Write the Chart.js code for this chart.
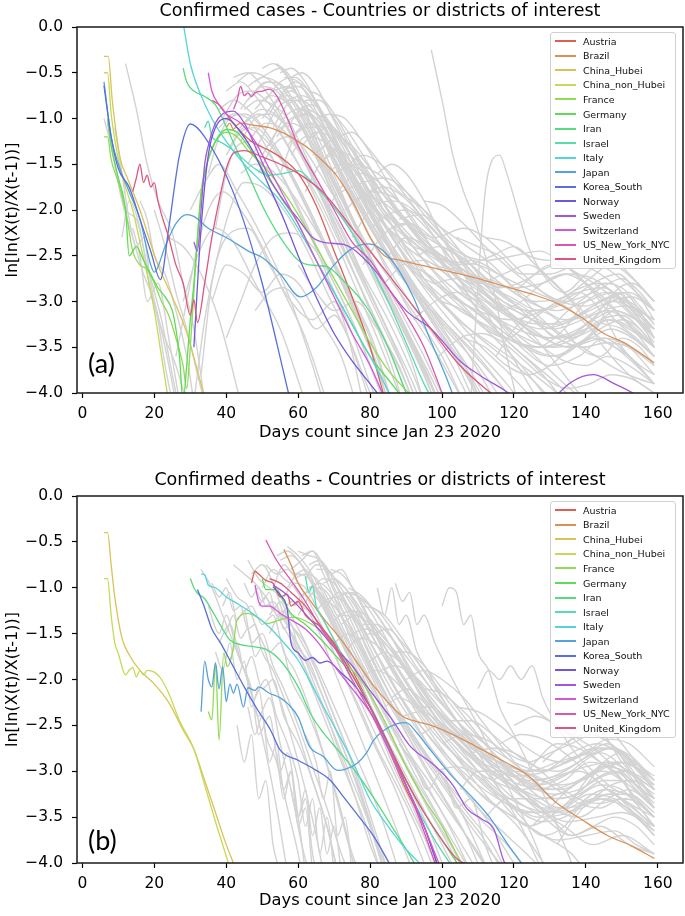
<!DOCTYPE html>
<html>
<head>
<meta charset="utf-8">
<script src="https://cdn.jsdelivr.net/npm/chart.js@4.4.1/dist/chart.umd.min.js"></script>
<style>
  body { margin: 0; background: #fff; }
  .panel { position: absolute; left: 0; width: 685px; height: 458px; }
  .legend { position: absolute; left: 550px; width: 126px; box-sizing: border-box; padding: 1px 0;
            border: 1px solid #d0d0d0; border-radius: 3px; background: rgba(255,255,255,0.85);
            font: 9.5px "DejaVu Sans"; color: #111; z-index: 2; }
  .row { height: 14.55px; display: flex; align-items: center; white-space: nowrap; }
  .swatch { flex: none; display: inline-block; width: 21px; height: 0; border-top: 2px solid; margin: 0 7px 0 4px; }
  .tag { position: absolute; left: 88px; font: 27px Lato, "Open Sans", sans-serif; line-height: 30px; color: #000; z-index: 2; }
</style>
</head>
<body>
<div class="panel" style="top:0"><canvas id="casesChart"></canvas></div>
<div class="panel" style="top:458px"><canvas id="deathsChart"></canvas></div>
<div class="legend" id="casesLegend" style="top:32px"></div>
<div class="legend" id="deathsLegend" style="top:501px"></div>
<div class="tag" style="top:348px">(a)</div>
<div class="tag" style="top:825px">(b)</div>
<script>
const countries = ['Austria', 'Brazil', 'China_Hubei', 'China_non_Hubei', 'France', 'Germany', 'Iran', 'Israel',
                   'Italy', 'Japan', 'Korea_South', 'Norway', 'Sweden', 'Switzerland', 'US_New_York_NYC', 'United_Kingdom'];
const colors = ['#db5f57', '#db9057', '#dbc257', '#c3db57', '#91db57', '#60db57', '#57db80', '#57dbb1',
                '#57d3db', '#57a2db', '#5770db', '#6f57db', '#a157db', '#d257db', '#db57b2', '#db5781'];
const xTicks = [0, 20, 40, 60, 80, 100, 120, 140, 160];
const yTicks = [0, -0.5, -1, -1.5, -2, -2.5, -3, -3.5, -4];

// (a) confirmed cases, pairs of day, value
const casesAustria = [36,-0.8, 38,-0.85, 40,-0.95, 43,-1.1, 47,-1.25, 52,-1.35, 56,-1.45, 60,-1.6, 65,-1.95, 70,-2.45, 75,-2.95, 80,-3.5, 84,-4.05];
const casesBrazil = [40,-1.1, 41,-1.05, 42,-1.12, 43,-1.07, 44,-1.05, 47,-1.07, 52,-1.1, 56,-1.16, 60,-1.25, 63,-1.33, 67,-1.47, 71,-1.64, 76,-1.97, 80,-2.3, 84,-2.5, 88.5,-2.55, 96,-2.62, 104,-2.69, 110,-2.75, 118,-2.84, 125,-2.92, 132,-3.02, 138.6,-3.17, 145,-3.35, 150.6,-3.45, 159,-3.67];
const casesChinaHubei = [6,-0.32, 7.2,-0.32, 8.3,-0.8, 10.6,-1.45, 12.4,-1.64, 16,-2.0, 20.8,-2.58, 25,-2.95, 29,-3.34, 34,-4.05];
const casesChinaNonHubei = [6,-0.5, 7,-0.5, 8,-0.95, 10,-1.45, 12,-1.75, 14,-2.0, 16,-2.35, 18,-2.7, 20,-3.1, 22,-3.6, 24,-4.1];
const casesFrance = [6,-1.2, 7,-1.2, 8,-1.45, 10,-1.7, 12,-2.0, 14,-2.45, 16,-2.6, 18,-2.65, 20,-2.8, 22,-3.0, 24,-3.15, 26,-3.4, 28,-3.7, 29,-3.95, 30,-3.5, 31,-2.9, 32,-2.3, 33,-1.8, 35,-1.45, 37,-1.25, 40,-1.15, 43,-1.2, 46,-1.35, 50,-1.5, 55,-1.75, 60,-2.05, 65,-2.4, 70,-2.75, 75,-3.1, 80,-3.45, 85,-3.75, 92,-4.05];
const casesGermany = [7,-1.0, 8,-1.3, 10,-1.65, 12,-2.0, 13,-2.5, 15,-2.4, 17,-2.55, 19,-2.7, 21,-2.85, 23,-2.95, 25,-3.1, 26,-3.3, 27,-3.6, 28,-4.1, 29,-3.7, 30,-3.2, 31,-2.8, 32,-2.3, 33,-1.85, 35,-1.45, 37,-1.25, 40,-1.12, 43,-1.15, 46,-1.3, 50,-1.55, 55,-1.85, 60,-2.15, 65,-2.55, 70,-2.9, 75,-3.25, 80,-3.6, 85,-3.85, 89,-4.05];
const casesIran = [28,-0.45, 29,-0.6, 31,-0.7, 34,-0.76, 37,-0.85, 40,-1.09, 43,-1.35, 46,-1.6, 50,-1.95, 55,-2.3, 60,-2.55, 63,-2.6, 68,-2.62, 72,-2.75, 79,-3.06, 85,-3.5, 90.5,-4.05];
const casesIsrael = [34,-1.1, 35,-1.03, 36,-1.2, 38,-1.25, 42,-1.35, 48,-1.55, 52,-1.62, 56,-1.6, 60,-1.57, 65,-1.75, 70,-1.97, 75,-2.25, 80,-2.6, 85,-3.0, 90,-3.45, 95,-3.9, 97,-4.05];
const casesItaly = [28,0.05, 30,-0.4, 33,-0.75, 36,-1.0, 40,-1.25, 45,-1.5, 50,-1.7, 55,-1.9, 60,-2.2, 65,-2.55, 70,-2.9, 75,-3.25, 80,-3.6, 86,-4.05];
const casesJapan = [6,-0.6, 8,-1.2, 10,-1.5, 13,-1.8, 16,-2.1, 19,-2.6, 20,-2.68, 23,-2.4, 26,-2.15, 29,-2.05, 31,-2.07, 35,-2.2, 40,-2.3, 46.7,-2.46, 50,-2.52, 55,-2.7, 60.6,-2.95, 65,-2.85, 70,-2.6, 75,-2.42, 79.6,-2.37, 85,-2.5, 92,-2.95, 96,-3.35, 101.5,-3.86, 103.3,-4.05];
const casesKorea = [6,-0.64, 8,-1.2, 10,-1.55, 13,-1.75, 16,-2.1, 19,-2.45, 21.7,-2.76, 24,-2.2, 27,-1.4, 30,-1.06, 34,-1.2, 42,-1.81, 49.5,-2.73, 57.3,-4.0];
const casesNorway = [31,-3.5, 33,-2.2, 35,-1.4, 37,-1.1, 40,-1.0, 44,-1.15, 48,-1.4, 52,-1.75, 56,-2.1, 60,-2.5, 65,-2.95, 70,-3.35, 75,-3.65, 80,-3.9, 83,-4.05];
const casesSweden = [31,-2.35, 32,-2.45, 33,-2.0, 34,-1.5, 35,-1.3, 37,-1.05, 39,-0.95, 42,-0.92, 45,-1.05, 48,-1.3, 52,-1.65, 56,-1.9, 60,-2.1, 64,-2.3, 68,-2.36, 73,-2.38, 80,-2.6, 90,-3.1, 97,-3.3, 105,-3.65, 111,-3.82, 120,-4.05, 125,-4.3, 130,-4.1, 136,-3.88, 142,-3.8, 148,-3.9, 155,-4.05, 159,-4.2];
const casesSwitzerland = [35,-0.5, 36,-0.7, 38,-0.85, 40,-0.95, 44,-1.05, 48,-1.25, 52,-1.55, 56,-1.85, 60,-2.15, 65,-2.55, 70,-2.95, 75,-3.35, 80,-3.7, 84,-4.05];
const casesNYC = [42,-0.9, 43,-0.8, 44,-0.65, 45,-0.75, 46,-0.72, 47,-0.76, 48,-0.72, 50,-0.7, 52,-0.68, 54,-0.75, 57,-1.0, 60,-1.3, 65,-1.65, 70,-2.0, 75,-2.35, 80,-2.55, 85,-2.85, 90,-3.15, 95,-3.5, 100.5,-4.05];
const casesUK = [14,-1.8, 15,-1.65, 16,-1.5, 17,-1.7, 18,-1.62, 19,-1.75, 20,-1.7, 21,-1.9, 22,-2.05, 24,-2.3, 26,-2.6, 28,-2.8, 30,-3.15, 31,-2.98, 32,-3.23, 34,-2.8, 36,-2.3, 38,-1.9, 40,-1.55, 42,-1.38, 45,-1.35, 50,-1.42, 55,-1.5, 60,-1.6, 67,-1.81, 75,-2.2, 85,-2.7, 95,-3.2, 105,-3.7, 115,-4.05];

const casesGray = [
  [12,-0.4, 15,-0.9, 18,-1.5, 21,-1.9, 25,-2.25, 28,-2.8, 31,-3.3, 34,-4.1],
  [6,-1.0, 8,-1.3, 11,-1.9, 14,-2.3, 17,-2.7, 20,-3.0, 23,-3.5, 26,-4.1],
  [7,-1.05, 9,-1.5, 12,-2.0, 15,-2.1, 18,-2.6, 22,-3.2, 25,-3.8, 27,-4.2],
  [11,-2.3, 13,-1.9, 16,-2.2, 19,-2.9, 22,-3.3, 26,-3.7, 29,-4.1],
  [14,-2.2, 16,-2.5, 18,-3.0, 21,-2.8, 24,-3.4, 27,-4.1],
  [24,-2.3, 28,-2.4, 33,-2.7, 38,-3.2, 44,-4.1],
  [28,-3.0, 32,-2.5, 37,-2.2, 42,-2.35, 48,-2.8, 55,-3.3, 62,-4.1],
  [30,-2.0, 34,-1.7, 38,-1.5, 43,-1.8, 50,-2.3, 58,-3.0, 64,-3.7, 67,-4.1],
  [33,-3.8, 36,-2.8, 40,-2.3, 46,-2.2, 52,-2.6, 58,-3.0, 64,-3.2, 70,-3.0, 74,-3.4, 78,-4.1],
  [36,-3.0, 40,-2.6, 45,-2.7, 50,-2.9, 55,-2.7, 60,-2.8, 66,-3.2, 72,-3.6, 76,-4.1],
  [38,-0.9, 42,-0.8, 46,-0.9, 52,-1.2, 58,-1.6, 64,-2.1, 70,-2.6, 76,-3.1, 82,-3.7, 85,-4.1],
  [40,-0.7, 44,-0.6, 48,-0.75, 54,-1.1, 60,-1.5, 66,-1.9, 72,-2.4, 78,-2.9, 84,-3.4, 90,-3.9, 92,-4.1],
  [42,-1.2, 46,-1.0, 50,-0.9, 55,-1.0, 60,-1.3, 66,-1.8, 72,-2.2, 78,-2.7, 85,-3.2, 92,-3.8, 95,-4.1],
  [44,-0.9, 48,-0.7, 52,-0.6, 56,-0.75, 61,-1.1, 67,-1.6, 73,-2.1, 80,-2.6, 88,-3.2, 96,-3.8, 99,-4.1],
  [46,-1.5, 50,-1.2, 54,-0.9, 58,-0.8, 62,-1.0, 68,-1.5, 74,-2.0, 81,-2.5, 90,-3.0, 100,-3.6, 106,-4.1],
  [48,-0.6, 52,-0.5, 55,-0.45, 58,-0.6, 62,-0.95, 68,-1.5, 74,-2.0, 80,-2.5, 87,-3.0, 95,-3.6, 101,-4.1],
  [50,-1.0, 54,-0.8, 58,-0.7, 62,-0.85, 67,-1.2, 73,-1.7, 80,-2.2, 88,-2.7, 97,-3.1, 106,-3.5, 115,-4.1],
  [52,-1.3, 56,-1.0, 60,-0.9, 64,-1.0, 69,-1.35, 75,-1.8, 82,-2.3, 90,-2.8, 100,-3.2, 110,-3.6, 120,-4.1],
  [54,-0.4, 57,-0.5, 60,-0.7, 64,-1.0, 70,-1.5, 76,-2.0, 83,-2.5, 91,-3.0, 100,-3.5, 108,-4.1],
  [55,-1.6, 59,-1.2, 63,-1.05, 67,-1.2, 72,-1.6, 78,-2.0, 85,-2.4, 93,-2.7, 102,-2.9, 112,-3.3, 122,-3.7, 130,-4.1],
  [57,-1.1, 61,-0.9, 65,-1.0, 70,-1.3, 76,-1.7, 83,-2.1, 90,-2.4, 98,-2.6, 106,-2.7, 115,-3.0, 125,-3.3, 135,-3.5, 145,-3.4, 152,-3.6, 159,-3.9],
  [58,-1.4, 62,-1.2, 67,-1.25, 72,-1.5, 78,-1.9, 85,-2.2, 92,-2.4, 100,-2.5, 108,-2.7, 116,-2.8, 124,-3.0, 132,-3.1, 140,-3.0, 148,-2.9, 154,-3.1, 159,-3.4],
  [60,-0.9, 64,-0.85, 68,-1.0, 73,-1.3, 80,-1.8, 88,-2.2, 96,-2.5, 104,-2.8, 112,-3.0, 120,-3.2, 128,-3.3, 136,-3.2, 144,-3.0, 150,-2.9, 155,-3.1, 159,-3.4],
  [62,-1.8, 66,-1.5, 70,-1.4, 75,-1.6, 82,-2.0, 90,-2.3, 98,-2.5, 106,-2.6, 114,-2.5, 120,-2.4, 126,-2.6, 134,-2.9, 142,-3.2, 150,-3.3, 159,-3.6],
  [64,-1.2, 68,-1.1, 72,-1.2, 78,-1.5, 85,-1.9, 92,-2.2, 100,-2.4, 108,-2.6, 116,-2.9, 124,-3.1, 132,-3.4, 140,-3.3, 146,-3.0, 152,-2.9, 159,-3.1],
  [66,-1.5, 70,-1.35, 76,-1.45, 83,-1.8, 90,-2.1, 98,-2.3, 106,-2.2, 112,-2.3, 120,-2.6, 128,-2.9, 136,-3.1, 144,-3.4, 152,-3.6, 159,-3.9],
  [68,-2.0, 73,-1.7, 78,-1.6, 84,-1.75, 92,-2.1, 100,-2.6, 108,-3.0, 116,-3.3, 124,-3.5, 132,-3.6, 140,-3.4, 146,-3.2, 152,-3.3, 159,-3.5],
  [70,-1.6, 76,-1.5, 82,-1.6, 88,-1.8, 95,-2.0, 102,-2.3, 110,-2.7, 118,-3.1, 126,-3.4, 134,-3.8, 140,-4.1],
  [72,-1.8, 78,-1.7, 84,-1.65, 90,-1.8, 97,-2.1, 104,-2.5, 112,-2.9, 120,-3.2, 128,-3.4, 136,-3.5, 143,-3.3, 148,-2.9, 153,-2.8, 159,-3.0],
  [75,-2.3, 80,-2.0, 86,-1.9, 92,-2.0, 98,-2.3, 104,-2.7, 110,-3.1, 118,-3.4, 126,-3.5, 134,-3.3, 140,-3.0, 146,-2.9, 152,-3.1, 159,-3.4],
  [78,-2.6, 83,-2.3, 89,-2.15, 95,-2.3, 101,-2.6, 108,-2.9, 115,-3.2, 122,-3.5, 130,-3.7, 138,-3.6, 145,-3.4, 152,-3.5, 159,-3.8],
  [82,-1.6, 86,-1.5, 90,-1.6, 95,-1.9, 100,-2.3, 106,-2.7, 112,-3.1, 118,-3.5, 124,-3.9, 127,-4.1],
  [97,-0.25, 100,-0.8, 103,-1.4, 106,-1.8, 109,-2.1, 112,-2.5, 115,-3.0, 118,-3.6, 121,-4.1],
  [108,-4.1, 110,-2.8, 112,-1.8, 114,-1.45, 116,-1.4, 118,-1.6, 121,-2.0, 124,-2.4, 128,-2.7, 134,-2.9, 140,-2.7, 146,-2.5, 152,-2.7, 159,-3.0],
  [85,-2.5, 90,-2.3, 96,-2.4, 103,-2.6, 110,-2.8, 117,-2.7, 124,-2.6, 131,-2.8, 138,-3.1, 145,-3.5, 152,-3.8, 159,-4.0],
  [88,-2.1, 94,-2.05, 100,-2.2, 107,-2.4, 114,-2.6, 121,-2.9, 128,-3.2, 135,-3.4, 142,-3.3, 148,-3.1, 154,-3.2, 159,-3.3],
  [100,-3.0, 106,-3.1, 112,-3.3, 118,-3.4, 125,-3.2, 132,-3.0, 138,-2.9, 144,-3.1, 150,-3.5, 155,-3.7, 159,-3.8],
  [92,-3.2, 98,-3.0, 104,-2.9, 110,-3.0, 118,-3.3, 126,-3.6, 134,-3.9, 140,-4.1],
  [104,-2.3, 110,-2.4, 116,-2.5, 122,-2.7, 130,-2.7, 138,-2.6, 144,-2.7, 150,-2.9, 155,-3.2, 159,-3.5],
  [115,-3.6, 120,-3.3, 126,-3.1, 132,-3.2, 138,-3.5, 144,-3.6, 150,-3.4, 155,-3.5, 159,-3.7],
  [45,-0.9, 49,-0.8, 53,-0.85, 57,-1.0, 62,-1.4, 68,-1.9, 74,-2.4, 80,-2.9, 86,-3.4, 92,-3.9, 94,-4.1],
  [47,-1.2, 51,-1.05, 55,-1.1, 60,-1.35, 66,-1.8, 72,-2.3, 78,-2.8, 84,-3.3, 90,-3.8, 93,-4.1],
  [41,-1.3, 45,-1.1, 50,-1.2, 56,-1.5, 62,-1.95, 68,-2.45, 74,-2.95, 80,-3.5, 85,-4.1],
  [53,-0.7, 57,-0.65, 61,-0.8, 66,-1.15, 72,-1.6, 78,-2.05, 85,-2.5, 93,-2.9, 101,-3.3, 110,-3.7, 117,-4.1],
  [60,-2.6, 65,-2.9, 70,-3.1, 76,-3.0, 82,-3.3, 88,-3.7, 92,-4.1],
  [56,-0.55, 60,-0.6, 64,-0.85, 69,-1.2, 75,-1.7, 82,-2.2, 90,-2.7, 98,-3.2, 107,-3.7, 113,-4.1],
  [63,-0.9, 67,-1.0, 72,-1.25, 78,-1.6, 85,-2.0, 93,-2.35, 101,-2.55, 110,-2.6, 118,-2.75, 126,-2.9, 134,-3.0, 142,-2.9, 150,-2.75, 155,-2.9, 159,-3.1],
  [35,-1.6, 38,-1.2, 41,-1.0, 45,-0.95, 50,-1.1, 56,-1.45, 62,-1.9, 68,-2.4, 74,-2.9, 80,-3.4, 86,-4.1],
  [37,-2.2, 40,-1.6, 43,-1.3, 47,-1.25, 52,-1.4, 58,-1.8, 64,-2.3, 70,-2.8, 76,-3.3, 82,-3.9, 84,-4.1],
  [39,-1.0, 43,-0.75, 47,-0.7, 51,-0.8, 56,-1.05, 62,-1.5, 68,-2.0, 74,-2.55, 80,-3.1, 86,-3.7, 89,-4.1],
  [43,-0.6, 47,-0.5, 51,-0.55, 55,-0.7, 60,-1.0, 66,-1.5, 72,-2.0, 78,-2.5, 84,-3.0, 91,-3.6, 95,-4.1],
  [46,-0.8, 50,-0.65, 54,-0.7, 58,-0.9, 63,-1.25, 69,-1.7, 75,-2.2, 82,-2.75, 89,-3.3, 96,-3.9, 98,-4.1],
  [49,-1.6, 53,-1.3, 57,-1.2, 61,-1.3, 66,-1.6, 72,-2.0, 78,-2.5, 85,-3.0, 92,-3.5, 98,-4.1],
  [51,-0.8, 55,-0.6, 59,-0.55, 63,-0.7, 68,-1.05, 74,-1.5, 80,-2.0, 87,-2.5, 94,-3.0, 102,-3.5, 109,-4.1],
  [53,-1.1, 57,-0.85, 61,-0.8, 65,-0.95, 70,-1.3, 76,-1.75, 83,-2.25, 90,-2.7, 98,-3.1, 107,-3.5, 116,-3.9, 120,-4.1],
  [55,-0.5, 58,-0.45, 62,-0.6, 66,-0.9, 71,-1.3, 77,-1.8, 84,-2.3, 91,-2.8, 99,-3.3, 107,-3.8, 111,-4.1],
  [57,-0.8, 61,-0.75, 65,-0.85, 70,-1.15, 75,-1.5, 81,-1.95, 88,-2.4, 96,-2.8, 105,-3.1, 114,-3.3, 123,-3.6, 132,-3.9, 137,-4.1],
  [59,-1.0, 63,-0.95, 67,-1.1, 72,-1.4, 78,-1.8, 85,-2.2, 93,-2.6, 101,-2.9, 110,-3.1, 119,-3.2, 128,-3.1, 136,-2.9, 143,-2.8, 150,-3.0, 159,-3.3],
  [61,-1.3, 65,-1.15, 69,-1.2, 74,-1.45, 80,-1.8, 87,-2.15, 95,-2.45, 103,-2.65, 111,-2.8, 119,-2.95, 127,-3.1, 135,-3.0, 142,-2.8, 149,-2.7, 154,-2.9, 159,-3.2],
  [63,-0.7, 66,-0.75, 70,-0.95, 75,-1.3, 81,-1.75, 88,-2.2, 96,-2.6, 104,-2.95, 112,-3.2, 120,-3.5, 128,-3.8, 134,-4.1],
  [65,-1.0, 69,-0.95, 73,-1.1, 78,-1.4, 84,-1.8, 91,-2.2, 99,-2.55, 107,-2.8, 115,-3.0, 123,-3.15, 131,-3.3, 139,-3.2, 146,-3.1, 153,-3.3, 159,-3.6],
  [67,-1.3, 71,-1.2, 75,-1.3, 80,-1.55, 86,-1.9, 93,-2.25, 100,-2.5, 108,-2.7, 116,-2.85, 124,-2.75, 130,-2.6, 136,-2.65, 142,-2.9, 148,-3.2, 154,-3.4, 159,-3.6],
  [69,-0.95, 73,-1.0, 77,-1.2, 82,-1.5, 88,-1.9, 95,-2.3, 103,-2.7, 111,-3.0, 119,-3.3, 127,-3.5, 135,-3.4, 142,-3.2, 148,-3.1, 154,-3.2, 159,-3.4],
  [71,-1.2, 75,-1.15, 79,-1.3, 84,-1.55, 90,-1.85, 97,-2.2, 104,-2.45, 112,-2.55, 120,-2.5, 127,-2.45, 134,-2.6, 141,-2.85, 148,-3.1, 154,-3.3, 159,-3.5],
  [74,-1.5, 78,-1.4, 83,-1.5, 89,-1.75, 95,-2.05, 102,-2.35, 110,-2.6, 118,-2.85, 126,-3.0, 134,-2.95, 141,-2.75, 147,-2.6, 153,-2.75, 159,-3.0],
  [76,-1.9, 81,-1.8, 86,-1.85, 92,-2.05, 99,-2.35, 106,-2.7, 114,-3.0, 122,-3.25, 130,-3.4, 138,-3.3, 145,-3.1, 151,-3.05, 159,-3.2],
  [80,-2.2, 85,-2.05, 90,-2.0, 96,-2.15, 103,-2.45, 110,-2.75, 117,-3.0, 125,-3.2, 133,-3.25, 141,-3.1, 148,-3.0, 154,-3.1, 159,-3.3],
  [84,-2.8, 89,-2.6, 95,-2.55, 101,-2.7, 108,-2.95, 115,-3.2, 123,-3.4, 131,-3.5, 139,-3.45, 147,-3.3, 153,-3.4, 159,-3.6],
  [90,-2.6, 96,-2.7, 102,-2.9, 109,-3.1, 116,-3.3, 123,-3.5, 130,-3.6, 137,-3.5, 144,-3.3, 150,-3.2, 155,-3.3, 159,-3.5],
  [95,-1.9, 100,-1.95, 106,-2.15, 112,-2.4, 119,-2.65, 126,-2.85, 133,-3.0, 140,-3.05, 147,-2.95, 153,-3.05, 159,-3.3],
  [98,-2.8, 104,-2.75, 110,-2.85, 116,-3.05, 122,-3.3, 128,-3.5, 134,-3.65, 140,-3.7, 146,-3.6, 152,-3.7, 159,-3.9],
  [106,-3.4, 112,-3.5, 118,-3.7, 124,-3.8, 130,-3.7, 136,-3.5, 142,-3.4, 148,-3.5, 154,-3.7, 159,-3.9],
  [110,-2.9, 116,-3.1, 122,-3.0, 128,-2.8, 134,-2.7, 140,-2.8, 146,-3.0, 152,-3.25, 159,-3.5],
  [20,-2.0, 23,-2.4, 26,-2.9, 29,-3.3, 32,-3.8, 34,-4.1],
  [9,-1.1, 11,-1.6, 13,-2.1, 15,-2.4, 17,-2.3, 19,-2.8, 21,-3.2, 23,-3.7, 25,-4.1],
  [16,-1.9, 18,-2.1, 20,-2.5, 23,-2.7, 26,-3.1, 29,-3.6, 31,-4.1],
  [26,-3.6, 29,-3.0, 32,-2.4, 35,-2.0, 39,-1.8, 44,-2.0, 50,-2.4, 56,-2.9, 62,-3.4, 68,-4.1],
  [31,-4.1, 34,-3.2, 37,-2.6, 41,-2.0, 45,-1.7, 50,-1.75, 56,-2.0, 62,-2.4, 68,-2.9, 74,-3.4, 80,-4.1],
  [40,-3.4, 44,-3.0, 48,-2.6, 53,-2.3, 58,-2.25, 64,-2.4, 70,-2.8, 76,-3.3, 81,-3.8, 84,-4.1],
  [48,-3.1, 52,-2.9, 56,-2.85, 60,-3.0, 65,-3.3, 70,-3.15, 74,-3.4, 78,-3.8, 81,-4.1],
  [44,-1.6, 48,-1.5, 52,-1.55, 57,-1.75, 63,-2.1, 69,-2.5, 75,-2.95, 81,-3.45, 86,-4.1],
  [38,-1.1, 42,-0.95, 46,-1.0, 51,-1.3, 57,-1.75, 63,-2.25, 69,-2.8, 75,-3.35, 80,-3.9, 82,-4.1],
  [40,-1.4, 44,-1.15, 48,-1.1, 53,-1.3, 59,-1.7, 65,-2.2, 71,-2.7, 77,-3.25, 83,-3.8, 86,-4.1],
  [42,-0.55, 46,-0.5, 50,-0.65, 55,-0.95, 61,-1.4, 67,-1.9, 73,-2.45, 79,-3.0, 86,-3.6, 91,-4.1],
  [44,-1.25, 48,-1.0, 52,-0.95, 57,-1.1, 62,-1.45, 68,-1.95, 74,-2.45, 81,-3.0, 88,-3.6, 93,-4.1],
  [46,-0.65, 50,-0.55, 54,-0.6, 58,-0.8, 63,-1.15, 69,-1.65, 76,-2.2, 83,-2.75, 90,-3.3, 97,-3.9, 99,-4.1],
  [48,-0.9, 52,-0.75, 56,-0.8, 61,-1.05, 66,-1.45, 72,-1.95, 79,-2.5, 86,-3.05, 93,-3.6, 99,-4.1],
  [50,-0.45, 53,-0.4, 57,-0.55, 61,-0.85, 66,-1.25, 72,-1.8, 78,-2.35, 85,-2.9, 92,-3.45, 99,-4.0, 100,-4.1],
  [52,-0.95, 56,-0.7, 60,-0.65, 64,-0.8, 69,-1.15, 75,-1.6, 82,-2.1, 89,-2.6, 97,-3.1, 105,-3.6, 111,-4.1],
  [54,-1.2, 58,-1.0, 62,-0.95, 66,-1.1, 71,-1.45, 77,-1.9, 84,-2.4, 91,-2.85, 99,-3.3, 107,-3.75, 112,-4.1],
  [56,-0.7, 59,-0.6, 63,-0.7, 67,-0.95, 72,-1.35, 78,-1.85, 85,-2.4, 92,-2.9, 100,-3.4, 108,-3.9, 110,-4.1],
  [58,-0.55, 61,-0.5, 65,-0.65, 69,-0.95, 74,-1.35, 80,-1.85, 87,-2.35, 94,-2.8, 102,-3.2, 110,-3.55, 118,-3.9, 122,-4.1],
  [60,-1.15, 64,-1.05, 68,-1.15, 73,-1.45, 79,-1.85, 86,-2.3, 93,-2.7, 101,-3.05, 109,-3.35, 117,-3.6, 125,-3.85, 131,-4.1],
  [62,-0.8, 66,-0.8, 70,-1.0, 75,-1.35, 81,-1.8, 88,-2.3, 95,-2.75, 103,-3.15, 111,-3.5, 119,-3.8, 126,-4.1],
  [45,-1.05, 49,-0.95, 53,-1.05, 58,-1.35, 64,-1.8, 70,-2.3, 76,-2.85, 82,-3.4, 88,-4.0, 89,-4.1],
  [47,-0.75, 51,-0.6, 55,-0.62, 59,-0.82, 64,-1.2, 70,-1.7, 77,-2.25, 84,-2.85, 91,-3.4, 98,-4.0, 99,-4.1],
  [50,-1.4, 54,-1.15, 58,-1.05, 62,-1.15, 67,-1.5, 73,-1.95, 79,-2.45, 86,-3.0, 93,-3.55, 99,-4.1],
  [53,-0.85, 57,-0.75, 61,-0.85, 66,-1.15, 71,-1.55, 77,-2.05, 84,-2.6, 91,-3.1, 99,-3.6, 106,-4.1],
  [57,-1.3, 61,-1.1, 65,-1.1, 70,-1.35, 76,-1.75, 83,-2.2, 90,-2.6, 98,-2.95, 106,-3.25, 115,-3.5, 124,-3.75, 132,-4.0, 135,-4.1],
  [64,-1.4, 68,-1.3, 72,-1.4, 77,-1.65, 83,-2.0, 90,-2.4, 97,-2.75, 105,-3.05, 113,-3.3, 121,-3.45, 129,-3.5, 137,-3.4, 144,-3.2, 150,-3.15, 155,-3.3, 159,-3.5],
  [66,-1.0, 70,-1.1, 74,-1.3, 79,-1.6, 85,-2.0, 92,-2.4, 100,-2.75, 108,-3.0, 116,-3.2, 124,-3.35, 132,-3.4, 140,-3.3, 147,-3.2, 153,-3.3, 159,-3.5],
  [68,-1.6, 72,-1.5, 77,-1.55, 83,-1.8, 89,-2.1, 96,-2.4, 104,-2.65, 112,-2.8, 120,-2.85, 128,-2.8, 135,-2.7, 142,-2.75, 149,-2.95, 155,-3.2, 159,-3.4],
  [73,-2.0, 78,-1.85, 83,-1.9, 89,-2.1, 96,-2.4, 103,-2.7, 111,-2.95, 119,-3.15, 127,-3.25, 135,-3.2, 142,-3.05, 148,-2.95, 154,-3.05, 159,-3.25],
  [79,-1.8, 84,-1.75, 89,-1.85, 95,-2.1, 102,-2.4, 109,-2.7, 117,-2.95, 125,-3.15, 133,-3.35, 141,-3.55, 149,-3.75, 155,-3.85, 159,-3.9],
  [86,-2.2, 91,-2.15, 97,-2.3, 103,-2.55, 110,-2.8, 117,-3.0, 124,-3.1, 131,-3.05, 138,-2.9, 145,-2.85, 151,-3.0, 159,-3.2],
  [93,-2.5, 99,-2.4, 105,-2.5, 111,-2.7, 118,-2.95, 125,-3.2, 132,-3.4, 139,-3.5, 146,-3.45, 152,-3.5, 159,-3.7],
  [102,-2.6, 108,-2.55, 114,-2.65, 120,-2.85, 127,-3.05, 134,-3.2, 141,-3.15, 147,-3.0, 153,-2.95, 159,-3.1],
  [112,-2.3, 118,-2.35, 124,-2.5, 130,-2.55, 136,-2.5, 142,-2.55, 148,-2.7, 154,-2.9, 159,-3.1],
  [120,-2.9, 126,-2.7, 132,-2.6, 138,-2.7, 144,-2.85, 150,-3.05, 155,-3.25, 159,-3.45],
  [130,-3.3, 135,-3.1, 140,-2.95, 145,-2.8, 150,-2.85, 155,-3.05, 159,-3.25],
  [99,-3.6, 105,-3.4, 111,-3.35, 117,-3.45, 123,-3.65, 129,-3.85, 135,-3.95, 141,-3.9, 147,-3.8, 153,-3.85, 159,-4.0]
];

// (b) confirmed deaths
const deathsAustria = [47,-0.95, 48,-0.82, 49,-0.85, 51,-0.92, 53,-0.95, 55,-1.1, 57,-1.07, 58,-1.2, 60,-1.15, 62,-1.3, 66,-1.42, 70,-1.6, 75,-1.9, 80,-2.3, 85,-2.75, 90,-3.2, 95,-3.6, 99,-4.05];
const deathsBrazil = [56,-0.58, 58,-0.75, 60,-0.95, 63,-1.12, 67,-1.33, 72.6,-1.6, 77,-1.85, 81,-2.07, 85,-2.25, 89,-2.4, 93,-2.46, 97,-2.5, 103,-2.6, 109,-2.72, 118,-2.91, 124,-3.05, 132,-3.35, 138.6,-3.52, 146,-3.7, 152.5,-3.81, 159,-3.95];
const deathsChinaHubei = [6,-0.4, 7,-0.4, 8,-0.75, 9,-1.1, 11,-1.55, 13,-1.73, 16,-1.9, 20,-2.05, 24,-2.25, 28,-2.55, 31,-2.76, 34,-3.1, 37,-3.45, 40,-3.8, 42.5,-4.05];
const deathsChinaNonHubei = [6,-0.9, 7,-0.9, 8,-1.3, 9,-1.6, 10,-1.72, 12,-1.95, 13,-1.9, 14,-1.87, 15,-1.97, 16,-1.9, 17,-1.95, 18,-1.9, 20,-1.92, 22,-2.0, 24,-2.15, 27,-2.45, 31,-2.76, 34,-3.15, 37,-3.55, 39,-3.8, 41,-4.05];
const deathsFrance = [35,-2.35, 36,-2.44, 37,-1.82, 38,-2.66, 39.3,-1.71, 40.3,-1.86, 41.7,-1.71, 43,-1.35, 46,-1.28, 48.6,-1.32, 51.4,-1.39, 55,-1.35, 58.7,-1.32, 63.4,-1.39, 68,-1.53, 72.6,-1.79, 78,-2.04, 84,-2.45, 90,-2.95, 95,-3.3, 100,-3.6, 106,-4.05];
const deathsGermany = [50,-0.9, 51,-1.02, 54,-1.02, 56,-1.15, 58,-1.28, 62,-1.4, 66,-1.55, 70,-1.72, 75,-1.95, 80,-2.3, 85,-2.7, 90,-3.1, 95,-3.45, 100,-3.75, 105,-4.05];
const deathsIran = [30,-0.9, 31,-1.0, 32,-1.06, 34,-1.12, 36.5,-1.28, 39,-1.45, 41,-1.57, 44,-1.62, 47,-1.64, 51.5,-1.68, 55,-1.79, 60,-2.08, 63.4,-2.37, 67,-2.58, 72.6,-2.84, 77,-3.06, 82,-3.35, 86,-3.6, 90,-3.85, 93,-4.05];
const deathsIsrael = [62,-0.88, 63,-1.05, 64,-0.98, 65,-1.2, 67,-1.35, 71,-1.64, 75,-1.95, 78,-2.15, 83,-2.55, 88,-3.0, 93,-3.4, 98,-3.75, 103,-4.05];
const deathsItaly = [33,-0.85, 34,-0.86, 35,-0.97, 37,-1.0, 40,-1.1, 43,-1.17, 48,-1.3, 52,-1.43, 56,-1.6, 60,-1.79, 65,-2.15, 70,-2.51, 75,-2.88, 80,-3.31, 85,-3.6, 90,-3.85, 95,-4.05];
const deathsJapan = [33,-2.35, 34,-1.8, 35,-2.0, 36,-2.08, 37,-1.82, 38,-2.1, 39,-1.86, 40,-2.24, 41,-2.05, 42,-2.15, 43,-2.05, 44.8,-2.3, 46,-2.09, 48,-2.12, 49,-2.08, 52,-2.15, 55,-2.2, 57,-2.26, 60,-2.41, 63,-2.72, 67,-2.84, 71,-2.99, 73,-2.98, 76.5,-2.91, 79,-2.8, 81,-2.66, 84,-2.55, 87.6,-2.48, 90,-2.47, 93,-2.58, 96,-2.73, 102,-3.02, 109,-3.31, 113,-3.49, 118,-3.78, 123,-4.05];
const deathsKorea = [32,-1.02, 34,-1.22, 36,-1.45, 38.4,-1.6, 41,-1.79, 45,-2.08, 48.7,-2.33, 52.3,-2.55, 55,-2.77, 60,-2.88, 65,-2.99, 69,-3.1, 72.6,-3.28, 77,-3.5, 81,-3.71, 86,-4.05];
const deathsNorway = [53,-0.99, 55,-1.08, 57,-1.24, 58,-1.6, 60,-1.71, 62,-1.79, 64,-1.76, 66,-1.82, 68,-1.8, 72,-1.93, 76,-2.08, 80,-2.3, 85,-2.7, 90,-3.15, 95,-3.6, 99,-4.05];
const deathsSweden = [53,-0.97, 56,-1.05, 60,-1.2, 65,-1.42, 70,-1.65, 75,-1.85, 79,-2.07, 86,-2.43, 91,-2.72, 98,-2.94, 103,-3.15, 107,-3.41, 111,-3.52, 114.4,-3.63, 117,-3.96, 118,-4.05];
const deathsSwitzerland = [48,-0.97, 49,-1.15, 50,-1.2, 52,-1.2, 55,-1.28, 58,-1.35, 62,-1.45, 66,-1.62, 70,-1.85, 75,-2.1, 80,-2.36, 85,-2.75, 91,-3.24, 95,-3.6, 99.6,-4.05];
const deathsNYC = [51,-0.48, 54,-0.7, 58,-0.92, 62,-1.15, 66,-1.42, 71,-1.71, 75,-2.0, 80,-2.35, 85,-2.7, 89,-3.06, 94,-3.55, 98.5,-4.05];
const deathsUK = [52,-0.9, 55,-0.95, 58,-1.05, 62,-1.2, 66,-1.4, 70,-1.62, 75,-1.95, 80,-2.3, 85,-2.7, 90,-3.1, 95,-3.45, 100,-3.75, 104,-3.95, 109,-4.05];

const deathsGray = [
  [33,-0.8, 36,-1.0, 39,-1.3, 42,-1.6, 45,-1.9, 48,-2.3, 51,-2.8, 54,-3.4, 57,-4.1],
  [35,-1.2, 38,-1.5, 40,-1.3, 43,-1.7, 46,-2.0, 49,-2.4, 52,-2.2, 55,-2.7, 58,-3.2, 61,-3.8, 63,-4.1],
  [38,-1.6, 41,-1.4, 44,-1.8, 47,-2.1, 49,-2.6, 52,-2.4, 55,-3.0, 57,-2.8, 60,-3.5, 62,-4.1],
  [40,-0.9, 43,-1.1, 46,-1.2, 49,-1.5, 52,-1.7, 55,-1.6, 58,-2.0, 62,-2.3, 66,-2.7, 70,-3.2, 74,-3.8, 76,-4.1],
  [43,-2.5, 45,-2.9, 47,-2.6, 49,-3.3, 51,-3.1, 53,-3.8, 55,-4.1],
  [44,-1.3, 47,-1.2, 50,-1.4, 53,-1.3, 56,-1.7, 59,-1.9, 63,-2.3, 67,-2.8, 71,-3.3, 75,-3.9, 77,-4.1],
  [46,-0.7, 49,-0.9, 52,-1.0, 55,-1.1, 58,-1.3, 62,-1.6, 66,-2.0, 71,-2.5, 76,-3.0, 81,-3.6, 85,-4.1],
  [48,-2.2, 51,-2.0, 54,-2.4, 57,-2.7, 60,-3.1, 62,-3.6, 64,-3.3, 66,-3.9, 68,-3.5, 70,-4.1],
  [50,-1.0, 53,-0.8, 56,-0.9, 59,-1.0, 62,-1.2, 66,-1.5, 70,-1.9, 75,-2.4, 80,-2.9, 85,-3.4, 90,-3.9, 92,-4.1],
  [52,-1.5, 55,-1.3, 58,-1.4, 61,-1.6, 65,-1.9, 69,-2.3, 74,-2.8, 78,-3.3, 82,-3.8, 84,-4.1],
  [54,-0.65, 57,-0.6, 60,-0.7, 63,-0.9, 67,-1.2, 71,-1.5, 76,-1.9, 81,-2.4, 86,-2.9, 92,-3.4, 97,-3.9, 99,-4.1],
  [56,-1.1, 59,-0.95, 62,-1.0, 65,-1.2, 69,-1.5, 73,-1.85, 78,-2.3, 84,-2.8, 90,-3.3, 96,-3.8, 99,-4.1],
  [58,-0.8, 61,-0.7, 64,-0.6, 67,-0.85, 71,-1.2, 75,-1.6, 80,-2.0, 86,-2.5, 92,-3.0, 99,-3.5, 106,-4.1],
  [60,-1.3, 63,-1.1, 66,-1.0, 69,-1.1, 73,-1.4, 77,-1.7, 82,-2.1, 88,-2.6, 95,-3.1, 102,-3.6, 108,-4.1],
  [62,-0.9, 65,-0.75, 68,-0.8, 71,-1.0, 75,-1.3, 80,-1.75, 86,-2.2, 92,-2.6, 99,-3.0, 106,-3.5, 113,-4.1],
  [64,-1.0, 67,-0.9, 70,-0.95, 74,-1.2, 78,-1.5, 83,-1.9, 89,-2.3, 96,-2.7, 104,-3.1, 112,-3.5, 120,-4.0, 122,-4.1],
  [66,-0.7, 69,-0.85, 72,-0.8, 75,-1.0, 79,-1.3, 84,-1.7, 90,-2.1, 97,-2.5, 105,-2.9, 113,-3.3, 121,-3.6, 130,-4.1],
  [68,-1.2, 71,-1.05, 74,-1.1, 78,-1.35, 83,-1.7, 89,-2.05, 96,-2.4, 104,-2.7, 112,-3.0, 120,-3.3, 128,-3.5, 136,-3.7, 144,-3.6, 152,-3.8, 159,-3.9],
  [70,-0.9, 73,-1.0, 76,-1.15, 80,-1.4, 85,-1.8, 91,-2.2, 98,-2.6, 106,-2.9, 114,-3.1, 122,-3.2, 130,-3.1, 138,-3.0, 146,-3.2, 153,-3.4, 159,-3.6],
  [72,-1.4, 76,-1.3, 80,-1.4, 85,-1.6, 90,-1.9, 96,-2.3, 103,-2.6, 110,-2.8, 118,-3.0, 126,-3.2, 134,-3.1, 141,-2.9, 148,-3.0, 154,-3.3, 159,-3.5],
  [74,-1.0, 78,-1.1, 82,-1.3, 87,-1.6, 93,-2.0, 100,-2.4, 108,-2.7, 116,-2.9, 124,-3.0, 132,-2.9, 140,-2.8, 146,-2.7, 152,-2.9, 159,-3.2],
  [76,-1.6, 80,-1.5, 84,-1.6, 89,-1.85, 95,-2.2, 102,-2.5, 110,-2.8, 118,-3.1, 126,-3.4, 134,-3.6, 142,-3.8, 150,-3.7, 159,-3.9],
  [78,-1.2, 82,-1.25, 86,-1.45, 91,-1.75, 97,-2.1, 104,-2.45, 112,-2.7, 120,-2.9, 128,-3.0, 136,-2.8, 143,-2.7, 149,-2.8, 155,-3.1, 159,-3.3],
  [80,-1.8, 84,-1.7, 88,-1.8, 93,-2.0, 99,-2.3, 106,-2.6, 114,-2.9, 122,-3.2, 130,-3.4, 138,-3.5, 146,-3.3, 152,-3.2, 159,-3.4],
  [82,-1.0, 84,-1.3, 86,-1.0, 88,-1.4, 90,-1.3, 93,-1.7, 96,-1.9, 100,-2.2, 105,-2.5, 110,-2.8, 116,-3.2, 122,-3.6, 128,-4.1],
  [100,-1.2, 102,-1.0, 104,-1.05, 106,-1.4, 108,-1.3, 110,-1.7, 113,-1.9, 116,-2.3, 120,-2.6, 125,-3.0, 130,-3.4, 135,-3.9, 137,-4.1],
  [110,-2.1, 113,-1.9, 116,-2.0, 119,-1.85, 122,-2.0, 125,-1.85, 128,-2.2, 132,-2.5, 137,-2.8, 142,-3.0, 148,-3.2, 154,-3.3, 159,-3.5],
  [86,-2.2, 90,-2.1, 95,-2.25, 100,-2.5, 106,-2.8, 112,-3.1, 118,-3.4, 124,-3.6, 130,-3.5, 136,-3.3, 142,-3.1, 148,-3.0, 154,-3.2, 159,-3.4],
  [90,-2.0, 95,-1.9, 100,-2.0, 106,-2.2, 112,-2.5, 118,-2.8, 125,-3.1, 132,-3.3, 139,-3.2, 145,-2.9, 150,-2.8, 155,-3.0, 159,-3.2],
  [94,-2.6, 99,-2.5, 104,-2.6, 110,-2.9, 116,-3.2, 122,-3.5, 128,-3.7, 134,-3.6, 140,-3.3, 146,-3.2, 152,-3.4, 159,-3.7],
  [100,-2.7, 106,-2.6, 112,-2.65, 118,-2.8, 124,-2.9, 130,-2.8, 136,-2.7, 142,-2.6, 148,-2.75, 154,-3.1, 159,-3.4],
  [105,-3.2, 110,-3.0, 116,-3.0, 122,-3.2, 128,-3.4, 134,-3.4, 140,-3.1, 146,-2.9, 152,-3.0, 159,-3.2],
  [112,-3.5, 118,-3.3, 124,-3.3, 130,-3.5, 136,-3.7, 142,-3.6, 148,-3.5, 154,-3.6, 159,-3.8],
  [120,-2.5, 126,-2.4, 132,-2.5, 138,-2.7, 144,-2.9, 150,-3.1, 155,-3.4, 159,-3.6],
  [135,-2.7, 140,-2.45, 145,-2.6, 150,-2.9, 155,-3.1, 159,-3.3],
  [54,-2.8, 56,-3.3, 58,-3.0, 60,-3.6, 62,-3.4, 64,-4.1],
  [62,-2.6, 65,-2.9, 67,-3.3, 69,-3.0, 71,-3.7, 73,-3.5, 75,-4.1],
  [47,-0.85, 50,-0.75, 53,-0.95, 56,-1.3, 60,-1.7, 64,-2.1, 69,-2.6, 74,-3.1, 79,-3.6, 83,-4.1],
  [60,-0.6, 63,-0.65, 66,-0.7, 69,-0.95, 73,-1.3, 77,-1.65, 82,-2.05, 88,-2.45, 94,-2.85, 100,-3.25, 106,-3.65, 111,-4.1],
  [88,-2.7, 92,-2.9, 96,-3.2, 100,-3.0, 104,-3.4, 108,-3.3, 112,-3.8, 115,-4.1],
  [120,-3.2, 126,-2.9, 132,-2.7, 138,-2.75, 144,-2.9, 150,-3.0, 155,-3.2, 159,-3.3],
  [70,-1.6, 74,-1.5, 78,-1.7, 82,-2.0, 87,-2.35, 93,-2.7, 99,-3.05, 105,-3.4, 111,-3.7, 117,-4.1],
  [36,-0.95, 38,-1.1, 40,-1.0, 42,-1.25, 44,-1.2, 46,-1.45, 48,-1.4, 50,-1.7, 53,-1.9, 56,-2.2, 60,-2.6, 64,-3.1, 68,-3.6, 71,-4.1],
  [39,-1.2, 41,-1.05, 43,-1.35, 45,-1.25, 47,-1.6, 50,-1.5, 53,-1.85, 56,-2.1, 60,-2.5, 64,-2.95, 68,-3.4, 72,-3.9, 74,-4.1],
  [41,-1.8, 43,-1.6, 45,-1.9, 47,-1.75, 50,-2.1, 53,-2.0, 56,-2.4, 60,-2.7, 64,-3.1, 68,-3.6, 71,-4.1],
  [45,-0.95, 47,-1.1, 49,-1.0, 51,-1.2, 53,-1.15, 56,-1.35, 59,-1.55, 63,-1.85, 67,-2.2, 72,-2.7, 77,-3.2, 82,-3.8, 85,-4.1],
  [49,-1.2, 51,-1.1, 53,-1.25, 55,-1.15, 58,-1.4, 61,-1.55, 65,-1.85, 69,-2.2, 74,-2.65, 79,-3.1, 84,-3.6, 88,-4.1],
  [51,-0.75, 54,-0.85, 57,-0.8, 60,-0.95, 63,-1.15, 67,-1.45, 71,-1.8, 76,-2.25, 81,-2.7, 87,-3.2, 93,-3.8, 96,-4.1],
  [53,-1.0, 56,-0.75, 59,-0.85, 62,-0.8, 65,-1.0, 69,-1.3, 73,-1.65, 78,-2.1, 84,-2.6, 90,-3.1, 96,-3.6, 101,-4.1],
  [55,-1.35, 58,-1.15, 61,-1.2, 64,-1.3, 68,-1.55, 72,-1.9, 77,-2.3, 82,-2.75, 88,-3.2, 94,-3.7, 98,-4.1],
  [57,-0.55, 60,-0.65, 63,-0.8, 66,-1.0, 70,-1.3, 74,-1.65, 79,-2.05, 84,-2.5, 90,-2.95, 96,-3.4, 103,-3.9, 105,-4.1],
  [59,-0.9, 62,-0.85, 65,-0.9, 68,-1.1, 72,-1.4, 76,-1.75, 81,-2.15, 87,-2.6, 93,-3.0, 100,-3.45, 107,-3.9, 110,-4.1],
  [61,-1.1, 64,-1.0, 67,-1.1, 70,-1.3, 74,-1.6, 79,-1.95, 84,-2.35, 90,-2.75, 97,-3.15, 104,-3.55, 111,-3.95, 113,-4.1],
  [63,-0.75, 66,-0.7, 69,-0.85, 72,-1.1, 76,-1.4, 81,-1.8, 86,-2.2, 92,-2.6, 99,-3.0, 106,-3.4, 114,-3.8, 118,-4.1],
  [65,-1.25, 68,-1.15, 71,-1.25, 75,-1.5, 79,-1.8, 84,-2.15, 90,-2.5, 96,-2.85, 103,-3.2, 110,-3.5, 118,-3.8, 124,-4.1],
  [67,-0.95, 70,-0.9, 73,-1.0, 77,-1.25, 81,-1.55, 86,-1.9, 92,-2.3, 98,-2.65, 105,-3.0, 112,-3.3, 120,-3.5, 128,-3.7, 136,-3.9, 140,-4.1],
  [69,-1.4, 72,-1.3, 76,-1.35, 80,-1.6, 85,-1.95, 90,-2.3, 96,-2.6, 103,-2.9, 110,-3.15, 118,-3.35, 126,-3.45, 134,-3.4, 141,-3.25, 148,-3.3, 154,-3.5, 159,-3.7],
  [71,-1.1, 75,-1.05, 79,-1.2, 83,-1.45, 88,-1.8, 94,-2.15, 100,-2.5, 107,-2.8, 114,-3.0, 122,-3.15, 130,-3.2, 138,-3.1, 145,-2.95, 151,-3.0, 159,-3.2],
  [73,-1.7, 77,-1.55, 81,-1.6, 86,-1.8, 91,-2.1, 97,-2.4, 104,-2.7, 111,-2.95, 119,-3.15, 127,-3.3, 135,-3.2, 142,-3.0, 149,-2.9, 155,-3.0, 159,-3.2],
  [75,-1.25, 79,-1.3, 83,-1.5, 88,-1.75, 93,-2.05, 99,-2.35, 106,-2.65, 113,-2.9, 121,-3.05, 129,-3.0, 137,-2.85, 144,-2.8, 150,-2.95, 155,-3.2, 159,-3.4],
  [77,-2.0, 81,-1.9, 85,-1.95, 90,-2.15, 96,-2.45, 102,-2.75, 109,-3.05, 116,-3.3, 123,-3.45, 130,-3.45, 137,-3.3, 144,-3.15, 150,-3.2, 155,-3.4, 159,-3.6],
  [81,-1.5, 85,-1.45, 89,-1.6, 94,-1.85, 100,-2.15, 106,-2.45, 113,-2.75, 120,-3.0, 127,-3.15, 134,-3.05, 141,-2.85, 147,-2.75, 153,-2.85, 159,-3.1],
  [84,-2.3, 88,-2.2, 93,-2.3, 98,-2.5, 104,-2.75, 110,-3.0, 117,-3.25, 124,-3.4, 131,-3.45, 138,-3.35, 145,-3.2, 151,-3.25, 159,-3.5],
  [92,-2.3, 97,-2.3, 102,-2.45, 108,-2.65, 114,-2.85, 120,-3.0, 127,-3.1, 134,-3.0, 140,-2.85, 146,-2.75, 152,-2.85, 159,-3.1],
  [98,-3.0, 104,-2.95, 110,-3.05, 116,-3.25, 122,-3.45, 128,-3.55, 134,-3.5, 140,-3.35, 146,-3.3, 152,-3.45, 159,-3.65],
  [104,-2.3, 110,-2.35, 116,-2.5, 122,-2.7, 128,-2.85, 134,-2.9, 140,-2.8, 146,-2.65, 152,-2.7, 159,-2.95],
  [116,-2.7, 122,-2.6, 128,-2.65, 134,-2.8, 140,-3.0, 146,-3.2, 152,-3.35, 159,-3.5],
  [125,-3.6, 130,-3.4, 135,-3.2, 140,-3.05, 145,-3.0, 150,-3.1, 155,-3.25, 159,-3.4],
  [140,-2.3, 144,-2.4, 148,-2.6, 152,-2.8, 156,-3.0, 159,-3.1],
  [87,-0.95, 89,-1.15, 91,-1.05, 93,-1.4, 95,-1.3, 98,-1.6, 101,-1.85, 105,-2.15, 110,-2.5, 115,-2.9, 120,-3.3, 125,-3.7, 129,-4.1],
  [46,-2.3, 48,-2.6, 50,-2.4, 52,-2.9, 54,-2.7, 56,-3.2, 58,-3.0, 60,-3.5, 62,-3.3, 64,-3.9, 65,-4.1],
  [58,-3.2, 60,-3.5, 62,-3.2, 64,-3.7, 66,-3.4, 68,-3.9, 70,-3.6, 72,-4.1],
  [37,-1.7, 39,-1.9, 41,-1.6, 43,-2.0, 45,-1.8, 47,-2.3, 49,-2.1, 51,-2.6, 54,-2.9, 57,-3.4, 60,-3.9, 61,-4.1],
  [42,-0.75, 45,-0.85, 48,-0.95, 51,-1.1, 54,-1.3, 57,-1.5, 61,-1.8, 65,-2.15, 70,-2.6, 75,-3.1, 80,-3.6, 84,-4.1],
  [55,-0.7, 58,-0.65, 61,-0.75, 64,-0.95, 68,-1.25, 72,-1.6, 77,-2.0, 82,-2.45, 88,-2.9, 94,-3.35, 100,-3.8, 104,-4.1],
  [57,-1.0, 60,-0.85, 63,-0.9, 66,-1.05, 70,-1.35, 74,-1.7, 79,-2.1, 85,-2.55, 91,-3.0, 97,-3.45, 104,-3.9, 107,-4.1],
  [59,-1.2, 62,-1.05, 65,-1.1, 68,-1.3, 72,-1.6, 77,-1.95, 82,-2.35, 88,-2.8, 95,-3.25, 102,-3.7, 108,-4.1],
  [61,-0.65, 64,-0.6, 67,-0.75, 70,-1.0, 74,-1.3, 78,-1.65, 83,-2.05, 89,-2.5, 95,-2.95, 102,-3.4, 109,-3.85, 113,-4.1],
  [63,-1.0, 66,-0.95, 69,-1.05, 73,-1.3, 77,-1.6, 82,-2.0, 88,-2.4, 94,-2.8, 101,-3.2, 108,-3.6, 116,-4.0, 118,-4.1],
  [65,-0.8, 68,-0.8, 71,-0.95, 75,-1.2, 79,-1.5, 84,-1.9, 90,-2.3, 96,-2.7, 103,-3.05, 110,-3.4, 118,-3.7, 126,-4.0, 128,-4.1],
  [67,-1.15, 70,-1.1, 74,-1.2, 78,-1.45, 83,-1.8, 88,-2.15, 94,-2.5, 101,-2.85, 108,-3.15, 116,-3.4, 124,-3.6, 132,-3.75, 140,-3.7, 148,-3.65, 154,-3.8, 159,-3.9],
  [69,-0.8, 72,-0.85, 76,-1.05, 80,-1.35, 85,-1.7, 91,-2.1, 97,-2.45, 104,-2.8, 111,-3.1, 119,-3.35, 127,-3.5, 135,-3.45, 142,-3.3, 149,-3.35, 155,-3.5, 159,-3.65],
  [71,-1.3, 75,-1.25, 79,-1.4, 84,-1.65, 89,-1.95, 95,-2.3, 102,-2.6, 109,-2.85, 116,-3.0, 124,-3.1, 132,-3.05, 140,-2.95, 147,-2.9, 153,-3.05, 159,-3.3],
  [73,-1.05, 77,-1.1, 81,-1.25, 86,-1.55, 91,-1.9, 97,-2.25, 104,-2.55, 111,-2.8, 119,-2.95, 127,-3.0, 135,-2.9, 142,-2.75, 148,-2.75, 154,-2.95, 159,-3.2],
  [75,-1.5, 79,-1.45, 83,-1.55, 88,-1.8, 94,-2.1, 100,-2.45, 107,-2.75, 114,-3.0, 122,-3.2, 130,-3.3, 138,-3.25, 145,-3.1, 151,-3.1, 159,-3.3],
  [78,-1.4, 82,-1.4, 86,-1.55, 91,-1.8, 97,-2.1, 103,-2.4, 110,-2.7, 117,-2.95, 125,-3.15, 133,-3.2, 141,-3.05, 148,-2.9, 154,-2.95, 159,-3.15],
  [80,-1.2, 84,-1.3, 88,-1.5, 93,-1.8, 99,-2.15, 105,-2.5, 112,-2.85, 119,-3.15, 127,-3.4, 135,-3.55, 143,-3.5, 150,-3.45, 159,-3.6],
  [83,-1.9, 87,-1.85, 92,-1.95, 97,-2.15, 103,-2.4, 110,-2.7, 117,-2.95, 124,-3.15, 131,-3.25, 138,-3.2, 145,-3.05, 151,-3.0, 159,-3.15],
  [86,-1.7, 90,-1.7, 95,-1.85, 100,-2.1, 106,-2.4, 112,-2.7, 119,-3.0, 126,-3.25, 133,-3.4, 140,-3.35, 147,-3.15, 153,-3.1, 159,-3.25],
  [89,-2.4, 94,-2.35, 99,-2.45, 105,-2.65, 111,-2.9, 118,-3.15, 125,-3.35, 132,-3.45, 139,-3.4, 146,-3.25, 152,-3.25, 159,-3.45],
  [95,-2.1, 100,-2.15, 106,-2.35, 112,-2.6, 118,-2.85, 125,-3.05, 132,-3.15, 139,-3.1, 146,-2.95, 152,-2.9, 159,-3.05],
  [102,-2.45, 108,-2.45, 114,-2.6, 120,-2.8, 126,-2.95, 132,-3.0, 138,-2.9, 144,-2.75, 150,-2.8, 155,-3.0, 159,-3.2],
  [108,-2.8, 114,-2.75, 120,-2.8, 126,-2.95, 132,-3.15, 138,-3.3, 144,-3.35, 150,-3.3, 155,-3.35, 159,-3.5],
  [114,-3.1, 120,-3.0, 126,-3.05, 132,-3.2, 138,-3.35, 144,-3.4, 150,-3.3, 155,-3.35, 159,-3.5],
  [118,-2.25, 124,-2.3, 130,-2.45, 136,-2.6, 142,-2.75, 148,-2.95, 154,-3.15, 159,-3.35],
  [128,-2.9, 134,-2.7, 140,-2.6, 145,-2.65, 150,-2.8, 155,-3.0, 159,-3.2],
  [132,-3.8, 137,-3.5, 142,-3.3, 147,-3.25, 152,-3.35, 156,-3.5, 159,-3.6],
  [48,-1.0, 50,-1.15, 52,-1.05, 54,-1.3, 56,-1.25, 58,-1.5, 61,-1.7, 64,-2.0, 68,-2.4, 72,-2.85, 76,-3.3, 80,-3.8, 83,-4.1],
  [52,-1.3, 54,-1.2, 56,-1.45, 58,-1.4, 60,-1.65, 63,-1.8, 66,-2.1, 70,-2.5, 74,-2.9, 78,-3.35, 82,-3.85, 84,-4.1],
  [40,-1.5, 42,-1.3, 44,-1.55, 46,-1.45, 48,-1.75, 50,-1.65, 53,-2.0, 56,-2.35, 59,-2.75, 62,-3.2, 65,-3.7, 67,-4.1]
];

const casesSeries = [casesAustria, casesBrazil, casesChinaHubei, casesChinaNonHubei, casesFrance, casesGermany, casesIran, casesIsrael,
                     casesItaly, casesJapan, casesKorea, casesNorway, casesSweden, casesSwitzerland, casesNYC, casesUK];
const deathsSeries = [deathsAustria, deathsBrazil, deathsChinaHubei, deathsChinaNonHubei, deathsFrance, deathsGermany, deathsIran, deathsIsrael,
                      deathsItaly, deathsJapan, deathsKorea, deathsNorway, deathsSweden, deathsSwitzerland, deathsNYC, deathsUK];

const FONT = 'DejaVu Sans';

function toPoints(a) {
    const p = [];
    for (let i = 0; i < a.length; i += 2) p.push({ x: a[i], y: a[i + 1] });
    return p;
}

function buildDatasets(series, gray) {
    const ds = [];
    series.forEach((arr, i) => ds.push({
        label: countries[i], data: toPoints(arr), borderColor: colors[i], borderWidth: 1.3, order: countries.length - i
    }));
    gray.forEach(arr => ds.push({
        label: '', data: toPoints(arr), borderColor: '#d3d3d3', borderWidth: 1.4, order: 100
    }));
    return ds;
}

// axes frame like matplotlib spines
const frame = {
    id: 'frame',
    afterDatasetsDraw(chart) {
        const { ctx, chartArea: a } = chart;
        ctx.save();
        ctx.strokeStyle = '#1a1a1a';
        ctx.lineWidth = 1.5;
        ctx.strokeRect(a.left, a.top, a.right - a.left, a.bottom - a.top);
        ctx.restore();
    }
};

function makeChart(id, series, gray, title, titlePad, xHeight, xTitlePad) {
    new Chart(document.getElementById(id), {
        type: 'line',
        data: { datasets: buildDatasets(series, gray) },
        plugins: [frame],
        options: {
            responsive: true,
            maintainAspectRatio: false,
            animation: false,
            events: [],
            layout: { padding: { left: 0, right: 2, top: 0, bottom: 0 } },
            elements: {
                point: { radius: 0 },
                line: { cubicInterpolationMode: 'monotone', borderJoinStyle: 'round' }
            },
            plugins: {
                legend: { display: false },
                tooltip: { enabled: false },
                title: {
                    display: true,
                    fullSize: false,
                    text: title,
                    color: '#000',
                    font: { family: FONT, size: 17.5, weight: 'normal' },
                    padding: titlePad
                }
            },
            scales: {
                x: {
                    type: 'linear',
                    min: -1.5,
                    max: 167,
                    afterBuildTicks: s => { s.ticks = xTicks.map(v => ({ value: v })); },
                    afterFit: s => { s.height = xHeight; },
                    ticks: { color: '#000', font: { family: FONT, size: 15.5 }, padding: 7, autoSkip: false, maxRotation: 0 },
                    grid: { drawOnChartArea: false, drawTicks: true, tickLength: 5, tickColor: '#000', tickWidth: 1.2 },
                    border: { display: false },
                    title: {
                        display: true, text: 'Days count since Jan 23 2020', color: '#000',
                        font: { family: FONT, size: 16.3 }, padding: { top: 0, bottom: xTitlePad }
                    }
                },
                y: {
                    min: -4,
                    max: 0,
                    afterBuildTicks: s => { s.ticks = yTicks.map(v => ({ value: v })); },
                    afterFit: s => { s.width = 77; },
                    ticks: {
                        color: '#000', font: { family: FONT, size: 15.5 }, padding: 9, autoSkip: false,
                        callback: v => v.toFixed(1).replace('-', '\u2212')
                    },
                    grid: { drawOnChartArea: false, drawTicks: true, tickLength: 5, tickColor: '#000', tickWidth: 1.2 },
                    border: { display: false },
                    title: {
                        display: true, text: 'ln[ln(X(t)/X(t-1))]', color: '#000',
                        font: { family: FONT, size: 16 }, padding: { top: 3, bottom: 0 }
                    }
                }
            }
        }
    });
}

function buildLegend(id) {
    const box = document.getElementById(id);
    countries.forEach((name, i) => {
        const row = document.createElement('div');
        row.className = 'row';
        const sw = document.createElement('span');
        sw.className = 'swatch';
        sw.style.borderTopColor = colors[i];
        const txt = document.createElement('span');
        txt.textContent = name;
        row.appendChild(sw);
        row.appendChild(txt);
        box.appendChild(row);
    });
}

makeChart('casesChart', casesSeries, casesGray, 'Confirmed cases - Countries or districts of interest',
          { top: 1, bottom: 5 }, 65, 15);
makeChart('deathsChart', deathsSeries, deathsGray, 'Confirmed deaths - Countries or districts of interest',
          { top: 12, bottom: 5 }, 53, 5);
buildLegend('casesLegend');
buildLegend('deathsLegend');
</script>
</body>
</html>
